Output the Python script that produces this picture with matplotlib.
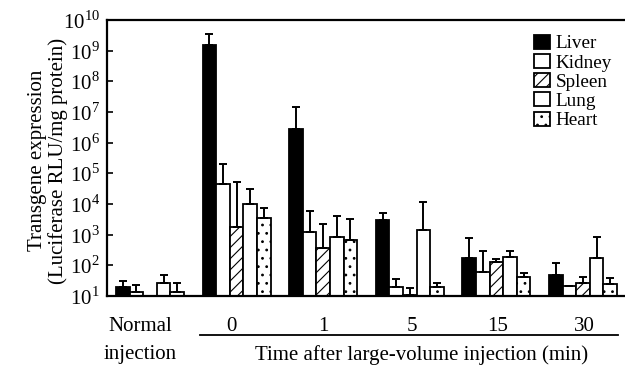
import numpy as np
import matplotlib
matplotlib.use('Agg')
import matplotlib.pyplot as plt
import matplotlib.transforms as mtransforms

### Fonts
plt.rcParams['font.family'] = ['Liberation Serif', 'DejaVu Serif']
plt.rcParams['mathtext.fontset'] = 'custom'
plt.rcParams['mathtext.rm'] = 'Liberation Serif'
plt.rcParams['hatch.linewidth'] = 0.8

### Data (RLU/mg protein), groups: normal injection, then 0/1/5/15/30 min
groups = ['Normal\ninjection', '0', '1', '5', '15', '30']
organs = ['Liver', 'Kidney', 'Spleen', 'Lung', 'Heart']

liver = [19, 1.5e9, 2.7e6, 2.9e3, 170, 48]
liver_top = [31, 3.4e9, 1.5e7, 5.2e3, 800, 117]
kidney = [13, 4.5e4, 1.2e3, 20, 62, 21]
kidney_top = [22, 2.0e5, 6.0e3, 35, 300, np.nan]
spleen = [np.nan, 1.8e3, 380, 11, 130, 26]
spleen_top = [np.nan, 5.4e4, 2.2e3, 18, 160, 42]
lung = [27, 1.0e4, 850, 1.4e3, 190, 170]
lung_top = [49, 3.0e4, 4.0e3, 1.2e4, 290, 810]
heart = [14, 3.5e3, 670, 19, 41, 24]
heart_top = [27, 7.2e3, 3.2e3, 27, 55, 40]

means = [liver, kidney, spleen, lung, heart]
tops = [liver_top, kidney_top, spleen_top, lung_top, heart_top]

### Styles
faces = ['black', 'white', 'white', 'white', 'white']
hatches = [None, None, '///', None, '..']
fs = 15

fig = plt.figure(figsize=(6.25, 3.67), dpi=100)
ax = fig.add_axes([0.1712, 0.1935, 0.8288, 0.752])
ax.set_yscale('log')

xg = np.arange(len(groups))
w = 0.157
for j in range(len(organs)):
    xs = xg + (j - 2) * w
    m = np.array(means[j], dtype=float)
    t = np.array(tops[j], dtype=float)
    ax.bar(xs, m, width=w, color=faces[j], edgecolor='black', linewidth=1.3,
           hatch=hatches[j], label=organs[j], zorder=2)
    up = np.where(np.isnan(t), 0, t - m)
    ax.errorbar(xs, m, yerr=[np.zeros_like(m), up], fmt='none', ecolor='black',
                elinewidth=1.4, capsize=3.2, capthick=1.4, zorder=3)

ax.set_ylim(10, 1e10)
ax.set_xlim(-0.497, 5.485)
ax.set_yticks([10.0 ** k for k in range(1, 11)])
ax.set_yticklabels([r'$10^{%d}$' % k for k in range(1, 11)])
ax.minorticks_off()
ax.tick_params(axis='y', direction='in', length=4, width=1.2, labelsize=fs, pad=5)
ax.set_xticks([])
for s in ['left', 'top', 'bottom']:
    ax.spines[s].set_linewidth(1.6)
ax.spines['right'].set_visible(False)

ax.set_ylabel('Transgene expression\n(Luciferase RLU/mg protein)', fontsize=fs,
              linespacing=1.1)
ax.yaxis.set_label_coords(-0.075, 0.49)

### Group labels under the axis
trans = mtransforms.blended_transform_factory(ax.transData, ax.transAxes)
label_x = [-0.115, 0.94, 2.0, 3.02, 4.01, 5.02]
ax.text(label_x[0], -0.112, 'Normal', transform=trans, ha='center', va='center', fontsize=fs)
ax.text(label_x[0], -0.212, 'injection', transform=trans, ha='center', va='center', fontsize=fs)
for lx, g in zip(label_x[1:], groups[1:]):
    ax.text(lx, -0.112, g, transform=trans, ha='center', va='center', fontsize=fs)
ax.plot([0.58, 5.40], [-0.141, -0.141], transform=trans, color='black',
        linewidth=1.3, clip_on=False)
ax.text(3.14, -0.215, 'Time after large-volume injection (min)', transform=trans,
        ha='center', va='center', fontsize=fs)

leg = ax.legend(loc='upper left', bbox_to_anchor=(0.81, 0.975), frameon=False,
                fontsize=13.8, handlelength=0.8, handleheight=0.75,
                handletextpad=0.3, labelspacing=0.08, borderaxespad=0)

fig.savefig('out.png', dpi=100)
